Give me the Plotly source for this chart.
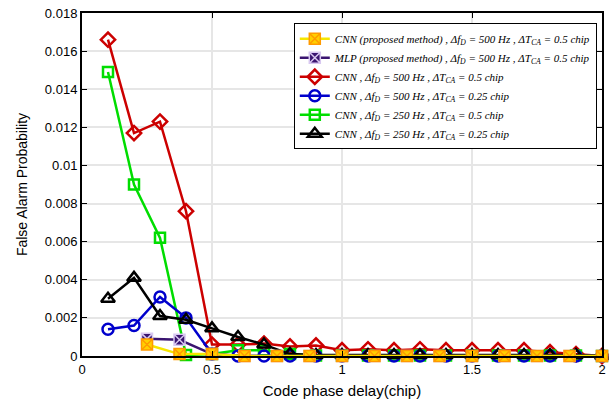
import plotly.graph_objects as go

# Code phase delay grids (chip)
delay_fine = [0.1, 0.2, 0.3, 0.4, 0.5, 0.6, 0.7, 0.8, 0.9, 1.0,
              1.1, 1.2, 1.3, 1.4, 1.5, 1.6, 1.7, 1.8, 1.9, 2.0]
delay_proposed = [0.25, 0.375, 0.5, 0.625, 0.75, 0.875, 1.0, 1.125,
                  1.25, 1.375, 1.5, 1.625, 1.75, 1.875, 2.0]

# False alarm probability per configuration
pfa_cnn_proposed = [0.0006, 0.0001, 0.0001, 0, 0, 0, 0, 0, 0, 0, 0, 0, 0, 0, 0]
pfa_mlp_proposed = [0.0009, 0.00085, 0.0001, 0, 0, 0, 0, 0, 0, 0, 0, 0, 0, 0, 0]
pfa_cnn_500_05 = [0.0166, 0.0117, 0.0123, 0.0076, 0.0006, 0.0006, 0.00065, 0.0005,
                  0.00055, 0.0003, 0.00035, 0.0003, 0.00035, 0.0003, 0.0003,
                  0.0003, 0.0003, 0.0002, 0.0001, 0.0]
pfa_cnn_500_025 = [0.0014, 0.0016, 0.0031, 0.0020, 0.0001, 0, 0, 0, 0, 0,
                   0, 0, 0, 0, 0, 0, 0, 0, 0, 0]
pfa_cnn_250_05 = [0.0149, 0.0090, 0.0062, 0.00005, 0.0001, 0.0003, 0.0003, 0.0001,
                  0.00003, 0.00003, 0.00003, 0.00003, 0.00003, 0.00003, 0.00003,
                  0.00003, 0.00003, 0.00003, 0.00003, 0.0]
pfa_cnn_250_025 = [0.0030, 0.0041, 0.0021, 0.0019, 0.00145, 0.0010, 0.0006, 0.0001,
                   0.00005, 0.00005, 0.00005, 0.00005, 0.00005, 0.00005, 0.00005,
                   0.00005, 0.00005, 0.00005, 0.00005, 0.0]

y_ticks = [0, 0.002, 0.004, 0.006, 0.008, 0.01, 0.012, 0.014, 0.016, 0.018]
y_tick_text = ["0", "0.002", "0.004", "0.006", "0.008", "0.01",
               "0.012", "0.014", "0.016", "0.018"]
x_ticks = [0, 0.5, 1, 1.5, 2]
x_tick_text = ["0", "0.5", "1", "1.5", "2"]

names = [
    "<i>CNN (proposed method) , Δf<sub>D</sub> = 500 Hz , ΔT<sub>CA</sub> = 0.5 chip</i>",
    "<i>MLP (proposed method) , Δf<sub>D</sub> = 500 Hz , ΔT<sub>CA</sub> = 0.5 chip</i>",
    "<i>CNN , Δf<sub>D</sub> = 500 Hz , ΔT<sub>CA</sub> = 0.5 chip</i>",
    "<i>CNN , Δf<sub>D</sub> = 500 Hz , ΔT<sub>CA</sub> = 0.25 chip</i>",
    "<i>CNN , Δf<sub>D</sub> = 250 Hz , ΔT<sub>CA</sub> = 0.5 chip</i>",
    "<i>CNN , Δf<sub>D</sub> = 250 Hz , ΔT<sub>CA</sub> = 0.25 chip</i>",
]

fig = go.Figure()

# Draw order: background curves first, proposed methods on top
fig.add_trace(go.Scatter(
    x=delay_fine, y=pfa_cnn_500_05, name=names[2], mode="lines+markers",
    line=dict(color="#CC0000", width=2.5),
    marker=dict(symbol="diamond-open", size=11, color="#CC0000", line=dict(width=2.5)),
    cliponaxis=False, legendrank=3))
fig.add_trace(go.Scatter(
    x=delay_fine, y=pfa_cnn_250_05, name=names[4], mode="lines+markers",
    line=dict(color="#00DD00", width=2.5),
    marker=dict(symbol="square-open", size=10, color="#00DD00", line=dict(width=2.5)),
    cliponaxis=False, legendrank=5))
fig.add_trace(go.Scatter(
    x=delay_fine, y=pfa_cnn_500_025, name=names[3], mode="lines+markers",
    line=dict(color="#0000CC", width=2.5),
    marker=dict(symbol="circle-open", size=11, color="#0000CC", line=dict(width=2.5)),
    cliponaxis=False, legendrank=4))
fig.add_trace(go.Scatter(
    x=delay_fine, y=pfa_cnn_250_025, name=names[5], mode="lines+markers",
    line=dict(color="#000000", width=2.5),
    marker=dict(symbol="triangle-up-open", size=12, color="#000000",
                line=dict(width=2.5, color="#000000")),
    cliponaxis=False, legendrank=6))
fig.add_trace(go.Scatter(
    x=delay_proposed, y=pfa_mlp_proposed, name=names[1], mode="lines+markers",
    line=dict(color="#3A1470", width=2.5),
    marker=dict(symbol="square-x", size=11, color="#3A1470",
                line=dict(width=1.5, color="#D8C8F0")),
    cliponaxis=False, legendrank=2))
fig.add_trace(go.Scatter(
    x=delay_proposed, y=pfa_cnn_proposed, name=names[0], mode="lines+markers",
    line=dict(color="#F5E600", width=2.5),
    marker=dict(symbol="square-x", size=11, color="#FFD000",
                line=dict(width=1.5, color="#FF9A00")),
    cliponaxis=False, legendrank=1))

axis_common = dict(
    showline=True, linecolor="#000000", linewidth=2, mirror="ticks",
    ticks="inside", ticklen=5, tickcolor="#000000", tickwidth=1,
    showgrid=True, gridcolor="#E6E6E6", gridwidth=1.5, zeroline=False,
    automargin=False,
    tickfont=dict(family="Liberation Sans, Arial", size=13, color="#000000"),
)

fig.update_xaxes(
    range=[0, 2], tickvals=x_ticks, ticktext=x_tick_text,
    title=dict(text="Code phase delay(chip)", standoff=10,
               font=dict(family="Liberation Sans, Arial", size=15, color="#000000")),
    **axis_common)
fig.update_yaxes(
    range=[0, 0.018], tickvals=y_ticks, ticktext=y_tick_text,
    title=dict(text="False Alarm Probability", standoff=14,
               font=dict(family="Liberation Sans, Arial", size=14, color="#000000")),
    **axis_common)

fig.update_layout(
    width=609, height=405,
    margin=dict(l=82, r=7, t=13, b=49, autoexpand=False),
    paper_bgcolor="white", plot_bgcolor="white",
    showlegend=True,
    legend=dict(
        x=0.99, y=0.97, xanchor="right", yanchor="top",
        bgcolor="white", bordercolor="#000000", borderwidth=1,
        font=dict(family="Liberation Serif, Times New Roman", size=11, color="#000000"),
        tracegroupgap=0, itemwidth=30,
    ),
)

fig.write_html("out.html")
